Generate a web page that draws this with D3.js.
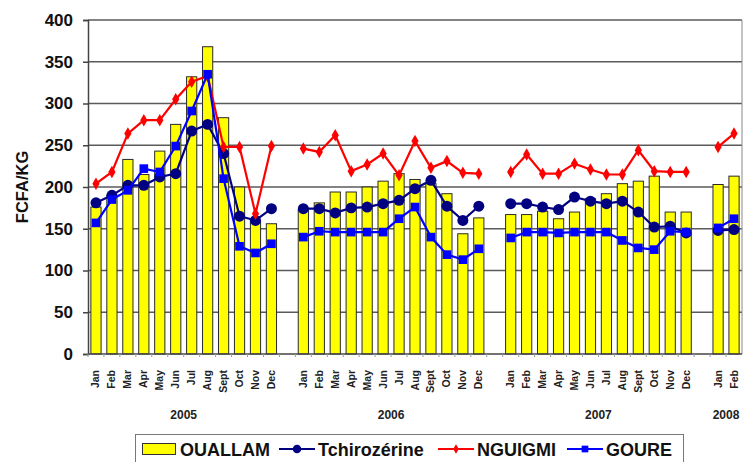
<!DOCTYPE html>
<html>
<head>
<meta charset="utf-8">
<script src="https://cdn.jsdelivr.net/npm/d3@7"></script>
<style>
  body { margin: 0; background: #fff; }
  svg { display: block; font-family: "Liberation Sans", Arial, sans-serif; }
</style>
</head>
<body>
<div id="container"></div>
<script>
// chart data
let years = ['2005', '2006', '2007', '2008']
let months = ['Jan', 'Feb', 'Mar', 'Apr', 'May', 'Jun', 'Jul', 'Aug', 'Sept', 'Oct', 'Nov', 'Dec']
let monthsPerYear = [12, 12, 12, 2]

let ouallam = [176, 190, 233, 215, 243, 275, 332, 368, 283, 200, 160, 156,
  173, 181, 194, 194, 200, 207, 216, 209, 204, 192, 144, 163,
  167, 167, 171, 162, 170, 186, 192, 204, 207, 213, 170, 170,
  203, 213]
let tchirozerine = [181, 190, 202, 202, 212, 216, 267, 275, 240, 165, 160, 174,
  174, 174, 169, 175, 176, 180, 184, 198, 208, 177, 160, 177,
  180, 180, 176, 173, 188, 183, 180, 183, 170, 152, 153, 145,
  148, 149]
let nguigmi = [204, 218, 264, 280, 280, 305, 326, 333, 248, 248, 168, 249,
  246, 242, 262, 219, 227, 240, 214, 255, 223, 231, 217, 216,
  218, 239, 216, 216, 228, 221, 215, 215, 244, 219, 218, 218,
  248, 264]
let goure = [157, 185, 196, 222, 218, 249, 291, 335, 210, 129, 121, 132,
  140, 147, 146, 146, 146, 146, 162, 176, 140, 119, 113, 126,
  139, 146, 146, 145, 146, 146, 146, 136, 127, 125, 147, 146,
  151, 162]

let yTicks = [0, 50, 100, 150, 200, 250, 300, 350, 400]

// build category keys, with an empty slot between years
let cats = []
let domain = []
years.forEach((yr, yi) => {
  if (yi > 0) domain.push('gap' + yi)
  months.slice(0, monthsPerYear[yi]).forEach(m => {
    let key = yr + '-' + m
    cats.push({ key: key, year: yr, month: m })
    domain.push(key)
  })
})

let width = 752, height = 462
let margin = { left: 88, right: 10, top: 20, bottom: 108 }

let svg = d3.select('#container').append('svg')
  .attr('width', width)
  .attr('height', height)

let x = d3.scaleBand()
  .domain(domain)
  .range([margin.left, width - margin.right])
  .padding(0)

let y = d3.scaleLinear()
  .domain([0, 400])
  .range([height - margin.bottom, margin.top])

// gridlines
svg.append('g')
  .selectAll('line')
  .data(yTicks.filter(d => d > 0))
  .join('line')
  .attr('x1', margin.left)
  .attr('x2', width - margin.right)
  .attr('y1', d => y(d))
  .attr('y2', d => y(d))
  .attr('stroke', '#5a5a5a')
  .attr('stroke-width', 1.6)

// right border of plot
svg.append('line')
  .attr('x1', width - margin.right).attr('x2', width - margin.right)
  .attr('y1', y(400)).attr('y2', y(0))
  .attr('stroke', '#888').attr('stroke-width', 1)

// bars
let barW = x.bandwidth() * 0.64
svg.append('g')
  .selectAll('rect')
  .data(cats)
  .join('rect')
  .attr('x', d => x(d.key) + (x.bandwidth() - barW) / 2)
  .attr('y', (d, i) => y(ouallam[i]))
  .attr('width', barW)
  .attr('height', (d, i) => y(0) - y(ouallam[i]))
  .attr('fill', '#ffff00')
  .attr('stroke', '#2a2a2a')
  .attr('stroke-width', 1)

// y axis
let yAxis = svg.append('g')
  .attr('transform', `translate(${margin.left},0)`)
  .call(d3.axisLeft(y).tickValues(yTicks).tickSize(5).tickPadding(10))
yAxis.select('.domain').attr('stroke', '#444').attr('stroke-width', 1.5)
yAxis.selectAll('.tick line').attr('stroke', '#444').attr('stroke-width', 1.5)
yAxis.selectAll('text')
  .attr('font-size', 17)
  .attr('font-weight', 'bold')
  .attr('fill', '#111')
  .style('font-family', '"Liberation Sans", Arial, sans-serif')

// x axis line
svg.append('line')
  .attr('x1', margin.left).attr('x2', width - margin.right)
  .attr('y1', y(0)).attr('y2', y(0))
  .attr('stroke', '#444').attr('stroke-width', 1.5)

// small ticks between categories
svg.append('g')
  .selectAll('line')
  .data(domain)
  .join('line')
  .attr('x1', d => x(d)).attr('x2', d => x(d))
  .attr('y1', y(0)).attr('y2', y(0) + 3)
  .attr('stroke', '#99a')
  .attr('stroke-width', 1)

// month labels
svg.append('g')
  .selectAll('text')
  .data(cats)
  .join('text')
  .attr('transform', d => `translate(${x(d.key) + x.bandwidth() / 2 + 3.5},${y(0) + 16}) rotate(-90)`)
  .attr('text-anchor', 'end')
  .attr('font-size', 10.5)
  .attr('font-weight', 'bold')
  .attr('fill', '#222')
  .text(d => d.month)

// year labels
svg.append('g')
  .selectAll('text')
  .data(years)
  .join('text')
  .attr('x', yr => {
    let ks = cats.filter(c => c.year === yr).map(c => x(c.key))
    return (d3.min(ks) + d3.max(ks) + x.bandwidth()) / 2
  })
  .attr('y', 419)
  .attr('text-anchor', 'middle')
  .attr('font-size', 12)
  .attr('font-weight', 'bold')
  .attr('fill', '#222')
  .text(d => d)

// y axis title
svg.append('text')
  .attr('transform', `translate(28,${(y(0) + y(400)) / 2}) rotate(-90)`)
  .attr('text-anchor', 'middle')
  .attr('font-size', 16.5)
  .attr('font-weight', 'bold')
  .attr('fill', '#111')
  .text('FCFA/KG')

// line series
let series = [
  { name: 'Tchirozérine', values: tchirozerine, color: '#000080', symbol: d3.symbolCircle, size: 95 },
  { name: 'NGUIGMI', values: nguigmi, color: '#ff0000', symbol: d3.symbolDiamond, size: 45 },
  { name: 'GOURE', values: goure, color: '#0000ff', symbol: d3.symbolSquare, size: 75 }
]

// each year drawn as its own segment so lines break at gaps
series.forEach(s => {
  let g = svg.append('g')
  years.forEach(yr => {
    let pts = cats.map((c, i) => ({ c: c, v: s.values[i] })).filter(p => p.c.year === yr)
    g.append('path')
      .datum(pts)
      .attr('fill', 'none')
      .attr('stroke', s.color)
      .attr('stroke-width', 2.2)
      .attr('d', d3.line()
        .x(p => x(p.c.key) + x.bandwidth() / 2)
        .y(p => y(p.v)))
  })
  g.selectAll('path.mark')
    .data(cats)
    .join('path')
    .attr('class', 'mark')
    .attr('transform', (c, i) => `translate(${x(c.key) + x.bandwidth() / 2},${y(s.values[i])})`)
    .attr('d', d3.symbol().type(s.symbol).size(s.size))
    .attr('fill', s.color)
})

// legend
let legend = svg.append('g')
legend.append('rect')
  .attr('x', 135.5).attr('y', 434.5)
  .attr('width', 548).attr('height', 34)
  .attr('fill', '#fff')
  .attr('stroke', '#777')

legend.append('rect')
  .attr('x', 142.5).attr('y', 443.5)
  .attr('width', 33).attr('height', 11)
  .attr('fill', '#ffff00')
  .attr('stroke', '#333')
legend.append('text')
  .attr('x', 180).attr('y', 456)
  .attr('font-size', 18).attr('font-weight', 'bold').attr('fill', '#111')
  .text('OUALLAM')

let legX = [279, 438, 567]
series.forEach((s, i) => {
  let lx = legX[i]
  legend.append('line')
    .attr('x1', lx).attr('x2', lx + 36)
    .attr('y1', 449).attr('y2', 449)
    .attr('stroke', s.color).attr('stroke-width', 2)
  legend.append('path')
    .attr('transform', `translate(${lx + 18},449)`)
    .attr('d', d3.symbol().type(s.symbol).size(s.size * 0.6))
    .attr('fill', s.color)
  legend.append('text')
    .attr('x', lx + 39).attr('y', 456)
    .attr('font-size', 18).attr('font-weight', 'bold').attr('fill', '#111')
    .text(s.name)
})
</script>
</body>
</html>
